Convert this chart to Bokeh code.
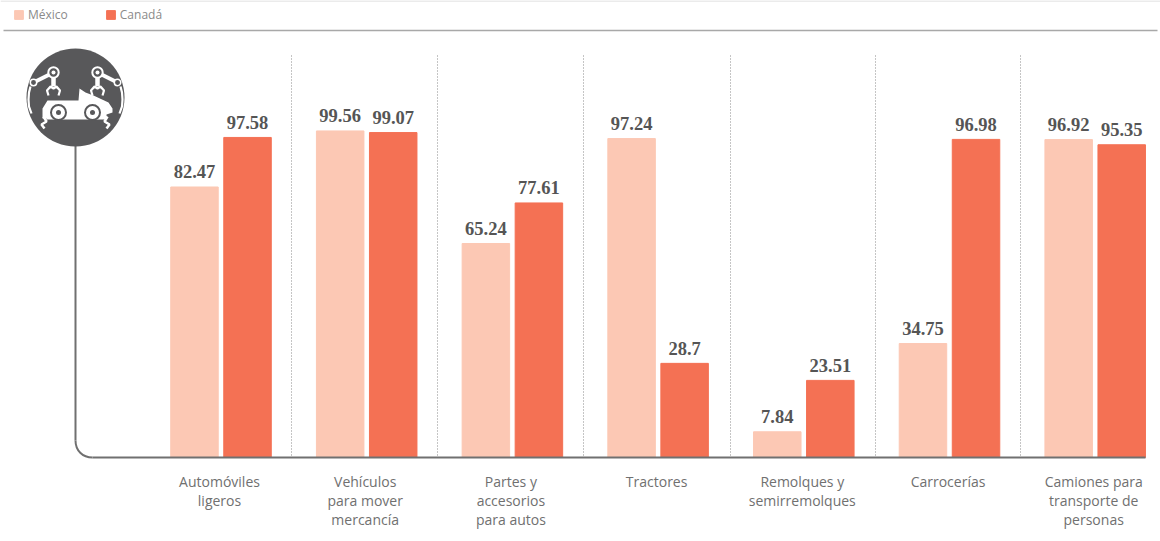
from bokeh.plotting import figure
from bokeh.models import Range1d, ColumnDataSource, Legend, LegendItem
from bokeh.embed import file_html
from bokeh.resources import INLINE
from bokeh.core.properties import value

categories = ["Automóviles\nligeros", "Vehículos\npara mover\nmercancía", "Partes y\naccesorios\npara autos",
              "Tractores", "Remolques y\nsemirremolques", "Carrocerías", "Camiones para\ntransporte de\npersonas"]
mexico = [82.47, 99.56, 65.24, 97.24, 7.84, 34.75, 96.92]
canada = [97.58, 99.07, 77.61, 28.7, 23.51, 96.98, 95.35]
mexico_labels = ["82.47", "99.56", "65.24", "97.24", "7.84", "34.75", "96.92"]
canada_labels = ["97.58", "99.07", "77.61", "28.7", "23.51", "96.98", "95.35"]

W, H = 1160, 541
STEP = 145.7
C0 = 220.5
BASE = 457
SCALE = 3.28
C_MX, C_CA = "#fcc8b4", "#f47154"
DARK, GREY = "#58585a", "#707070"
SERIF = value("Liberation Serif")
SANS = value("Open Sans")

p = figure(width=W, height=H, output_backend="svg", toolbar_location=None,
           x_range=Range1d(-C0 / STEP, (W - C0) / STEP),
           y_range=Range1d(-(H - BASE) / SCALE, BASE / SCALE),
           min_border=0, min_border_left=0, min_border_right=0, min_border_top=0, min_border_bottom=0,
           x_axis_type=None, y_axis_type=None, outline_line_color=None)
p.xgrid.visible = False
p.ygrid.visible = False
p.background_fill_color = "white"
p.border_fill_color = "white"
# overlay range in page pixels, for the rules and the icon
p.extra_x_ranges["px"] = Range1d(0, W)
p.extra_y_ranges["px"] = Range1d(H, 0)
PX = dict(x_range_name="px", y_range_name="px")

idx = list(range(len(categories)))
src = ColumnDataSource(dict(
    xm=[i - 0.182 for i in idx], xc=[i + 0.182 for i in idx], x=idx,
    mx=mexico, ca=canada, lm=mexico_labels, lc=canada_labels, cat=categories))

# separators
seps = [291, 437, 583, 730, 875, 1020]
p.segment(seps, [55] * 6, seps, [457] * 6, line_color="#8a8a8a", line_width=1, line_dash="1 2", **PX)

bw = 47.5 / STEP
r1 = p.vbar(x="xm", top="mx", bottom=0, width=bw, color=C_MX, source=src)
r2 = p.vbar(x="xc", top="ca", bottom=0, width=bw, color=C_CA, source=src)

for xcol, ycol, tcol in (("xm", "mx", "lm"), ("xc", "ca", "lc")):
    p.text(x=xcol, y=ycol, text=tcol, source=src, text_align="center", text_baseline="alphabetic",
           y_offset=-15, text_font=SERIF, text_font_size="18.5px", text_color="#555555", text_font_style="bold")

p.text(x="x", y=0, text="cat", source=src, text_align="center", text_baseline="top", y_offset=14, x_offset=-1.5,
       text_font=SANS, text_font_size="14px", text_color=GREY, text_line_height=1.0)

# axis curve
p.segment([75], [140], [75], [440], line_color=GREY, line_width=2, **PX)
p.bezier(x0=[75], y0=[440], x1=[92], y1=[457], cx0=[75], cy0=[450], cx1=[82], cy1=[457],
         line_color=GREY, line_width=2, **PX)
p.segment([92], [457], [1145], [457], line_color=GREY, line_width=2, **PX)

# rules
p.segment([3], [30], [1157], [30], line_color="#a8a8a8", line_width=1.3, **PX)
p.segment([0], [0.5], [1160], [0.5], line_color="#d8d8d8", line_width=1, **PX)

# icon
p.circle([75], [97], radius=49, fill_color=DARK, line_color=None, **PX)
w = "white"
for side in (1, -1):
    X = lambda v: 75 + side * v
    # side crescent
    p.line([X(45), X(46.5), X(47), X(46.5), X(44)], [86, 92, 99, 106, 113], line_color=w, line_width=2.2, **PX)
    # arm
    p.line([X(42), X(22)], [82, 72], line_color=w, line_width=4, **PX)
    p.circle([X(42)], [82], radius=3.2, fill_color=DARK, line_color=w, line_width=1.5, **PX)
    p.circle([X(22)], [72], radius=5.2, fill_color=DARK, line_color=w, line_width=2, **PX)
    p.circle([X(22)], [72], radius=2, fill_color=w, line_color=None, **PX)
    # wrist and claw
    p.line([X(22), X(22)], [77, 86], line_color=w, line_width=4.5, **PX)
    p.line([X(17), X(15.5), X(19), X(22), X(25), X(28.5), X(27)], [95, 90, 86, 88, 86, 90, 95],
           line_color=w, line_width=2.2, **PX)
    # lower notch
    p.line([X(32), X(29), X(34), X(31)], [116, 121, 124, 128], line_color=w, line_width=2.5, **PX)
# car
p.patch([42, 42, 47, 78, 79, 85, 93, 108, 112, 112, 106, 106, 46, 46],
        [118, 108, 100, 100, 88, 92, 95, 102, 108, 112, 114, 119, 119, 118],
        fill_color=w, line_color=None, **PX)
for cx in (58, 92):
    p.circle([cx], [112], radius=7.5, fill_color=w, line_color=DARK, line_width=2, **PX)
    p.circle([cx], [112], radius=2.5, fill_color=DARK, line_color=None, **PX)

legend = Legend(items=[LegendItem(label="México", renderers=[r1]), LegendItem(label="Canadá", renderers=[r2])],
                orientation="horizontal", location=(13, H - 23), glyph_width=11, glyph_height=11,
                label_standoff=4, spacing=37, padding=0, margin=0, border_line_color=None,
                background_fill_alpha=0, label_text_font="Open Sans", label_text_font_size="12px",
                label_text_color="#8a8a8a", label_height=11)
p.add_layout(legend)

open("out.html", "w").write(file_html(p, INLINE))
